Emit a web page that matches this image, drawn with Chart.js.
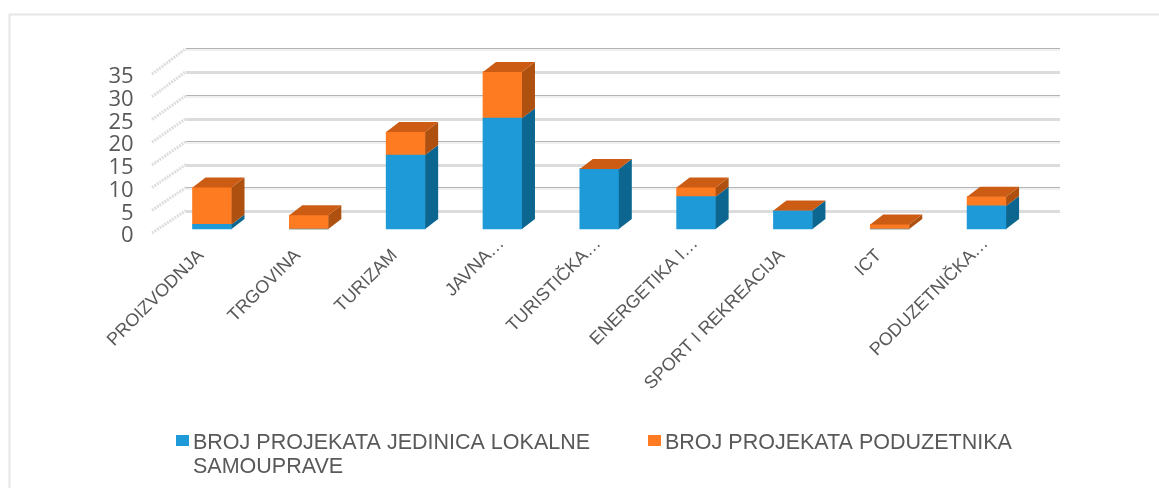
<!DOCTYPE html>
<html><head><meta charset="utf-8">
<style>html,body{margin:0;padding:0;background:#fff}#w{width:1159px;height:488px;position:relative}</style>
<script src="https://cdn.jsdelivr.net/npm/chart.js@4"></script></head>
<body><div id="w"><canvas id="c" width="1159" height="488"></canvas></div>
<script>
const categories = ['PROIZVODNJA','TRGOVINA','TURIZAM','JAVNA…','TURISTIČKA…','ENERGETIKA I…','SPORT I REKREACIJA','ICT','PODUZETNIČKA…'];
const lokalne = [1,0,16,24,13,7,4,0,5];
const poduzetnici = [8,3,5,10,0,2,0,1,2];
const legendLokalne = ['BROJ PROJEKATA JEDINICA LOKALNE','SAMOUPRAVE'];
const legendPoduzetnici = ['BROJ PROJEKATA PODUZETNIKA'];
const yTicks = [0,5,10,15,20,25,30,35];

const BLUE='#1f9ad8', BLUE_SIDE='#0c668f';
const ORANGE='#ff7b22', ORANGE_SIDE='#ae500f', ORANGE_TOP='#cc5c14';
const TXT='#595959';
const DX=13, DY=10;

function poly(ctx,pts,col){ctx.fillStyle=col;ctx.beginPath();pts.forEach((p,i)=>i?ctx.lineTo(p[0],p[1]):ctx.moveTo(p[0],p[1]));ctx.closePath();ctx.fill();}

const scene={
  id:'scene',
  beforeDraw(chart){
    // truncated labels sit further along their slant in the reference
    const s=chart.scales.x;
    s.getLabelItems(chart.chartArea).forEach(it=>{
      if(String(it.label).endsWith('…')&&!it.moved){
        it.options.translation[0]+=10;it.options.translation[1]-=12;it.moved=true;
      }
    });
  },
  beforeDatasetsDraw(chart){
    const ctx=chart.ctx, y=chart.scales.y, f=chart.scales.yFront;
    ctx.save();
    // frame: only the left and top edges are inside the picture
    ctx.strokeStyle='#e6e6e6';ctx.lineWidth=2;
    ctx.beginPath();ctx.moveTo(9.5,488);ctx.lineTo(9.5,14.5);ctx.lineTo(1159,14.5);ctx.stroke();
    yTicks.forEach((v,i)=>{
      const by=Math.round(y.getPixelForValue(v)-19)+0.5, fy=f.getPixelForValue(v)-3;
      ctx.setLineDash([2,1]);ctx.strokeStyle='#dedede';ctx.lineWidth=3;
      ctx.beginPath();ctx.moveTo(152,fy);ctx.lineTo(186,by);ctx.stroke();
      ctx.setLineDash([]);
      if(i%2){
        ctx.strokeStyle='#f0f0f0';ctx.lineWidth=3;
        ctx.beginPath();ctx.moveTo(186,by+1);ctx.lineTo(1060,by+1);ctx.stroke();
        ctx.strokeStyle='#b4b4b4';ctx.lineWidth=1;
        ctx.beginPath();ctx.moveTo(186,by);ctx.lineTo(1060,by);ctx.stroke();
      }else{
        ctx.strokeStyle='#dcdcdc';ctx.lineWidth=3;
        ctx.beginPath();ctx.moveTo(186,by+1);ctx.lineTo(1060,by+1);ctx.stroke();
      }
    });
    ctx.restore();
  },
  afterDatasetsDraw(chart){
    const ctx=chart.ctx;
    ctx.save();
    const sides=[BLUE_SIDE,ORANGE_SIDE];
    const count=chart.data.labels.length;
    for(let i=0;i<count;i++){
      let top=null;
      [0,1].forEach(d=>{
        const val=chart.data.datasets[d].data[i];
        if(!val) return;
        const b=chart.getDatasetMeta(d).data[i];
        const r=b.x+b.width/2,l=b.x-b.width/2;
        poly(ctx,[[r,b.base],[r+DX,b.base-DY],[r+DX,b.y-DY],[r,b.y]],sides[d]);
        top={l,r,y:b.y};
      });
      if(top) poly(ctx,[[top.l,top.y],[top.l+DX,top.y-DY],[top.r+DX,top.y-DY],[top.r,top.y]],ORANGE_TOP);
    }
    ctx.restore();
    // legend
    ctx.save();
    ctx.font='21.5px "Liberation Sans"';ctx.textBaseline='middle';ctx.textAlign='left';
    const items=[[legendLokalne,176,BLUE],[legendPoduzetnici,648,ORANGE]];
    items.forEach(([lines,x,col])=>{
      ctx.fillStyle=col;ctx.fillRect(x,435,13,11);
      ctx.fillStyle=TXT;
      lines.forEach((t,k)=>ctx.fillText(t,x+17,443+k*24.5));
    });
    ctx.restore();
  }
};

new Chart(document.getElementById('c'),{
  type:'bar',
  data:{labels:categories,datasets:[
    {label:legendLokalne.join(' '),data:lokalne,backgroundColor:BLUE,stack:'s',yAxisID:'y',barThickness:39},
    {label:legendPoduzetnici[0],data:poduzetnici,backgroundColor:ORANGE,stack:'s',yAxisID:'y',barThickness:39}
  ]},
  plugins:[scene],
  options:{
    responsive:false,animation:false,
    layout:{padding:{top:48,right:124,left:0,bottom:0}},
    plugins:{legend:{display:false},tooltip:{enabled:false},title:{display:false}},
    scales:{
      x:{stacked:true,grid:{display:false},border:{display:false},
        afterFit(s){s.height=252;},
        ticks:{autoSkip:false,minRotation:45,maxRotation:45,padding:1,labelOffset:-11,color:TXT,font:{family:'"Liberation Sans"',size:18}}},
      y:{stacked:true,display:false,min:-1.515,max:39.18},
      yFront:{position:'left',min:0,max:41.41,grid:{display:false,drawTicks:false},border:{display:false},
        afterBuildTicks(s){s.ticks=yTicks.map(v=>({value:v}));},
        afterFit(s){s.width=163.6;},
        ticks:{autoSkip:false,padding:30,color:TXT,font:{family:'"Open Sans"',size:22}}}
    }
  }
});
</script></body></html>
